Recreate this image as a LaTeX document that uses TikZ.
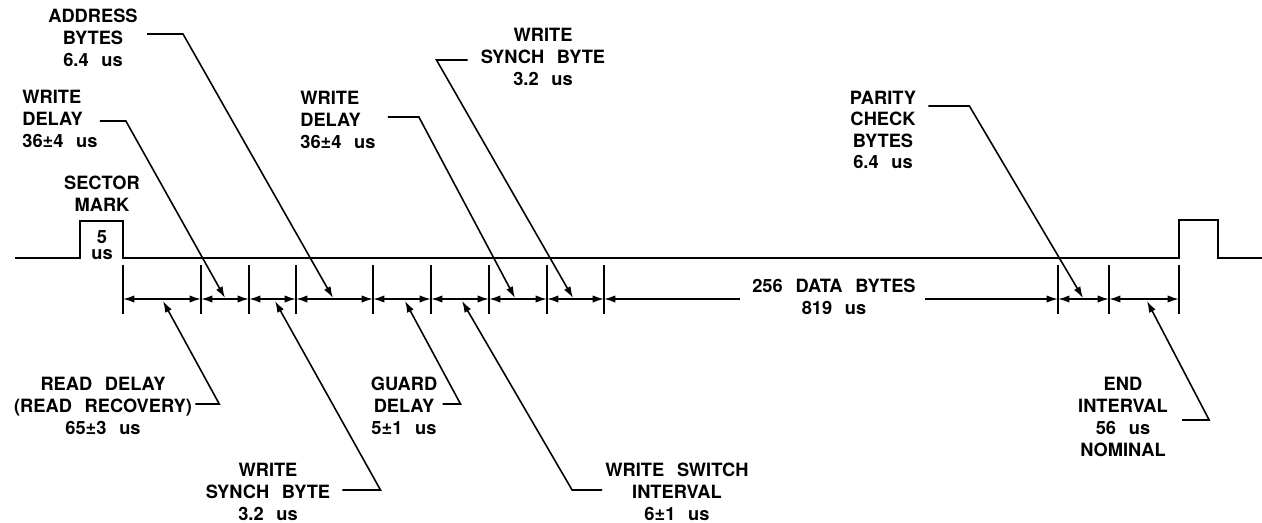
\documentclass[tikz,border=0pt]{standalone}
\usepackage{fontspec}
\setmainfont{TeX Gyre Heros}[WordSpace=2.5]
\usetikzlibrary{arrows.meta}

\begin{document}
\begin{tikzpicture}[
  x=0.02cm, y=-0.02cm,
  font=\fontsize{10.4}{12.5}\selectfont\bfseries,
  lbl/.style={align=center, inner sep=0pt},
  signal/.style={line width=1.5pt, line join=miter},
  tick/.style={line width=0.9pt},
  dim/.style={{Latex[length=6.5pt,width=4.2pt]}-{Latex[length=6.5pt,width=4.2pt]},
              line width=0.9pt},
  lead/.style={-{Latex[length=6.5pt,width=4.2pt]}, line width=0.9pt}
]
\useasboundingbox (0,0) rectangle (1262,522);

%% Signal with sector mark pulses
\draw[signal] (15,258) -- (80,258) -- (80,221) -- (123,221) -- (123,258)
  -- (1179,258) -- (1179,220) -- (1218,220) -- (1218,258) -- (1262,258);
\node[lbl] (sector) at (102,194) {SECTOR\\MARK};
\node[lbl, font=\fontsize{10.4}{9.1}\selectfont\bfseries] (smark) at (102,245) {5\\us};

%% Tick marks on the time scale
\coordinate (t1)  at (123,299);
\coordinate (t2)  at (201,299);
\coordinate (t3)  at (249,299);
\coordinate (t4)  at (296,299);
\coordinate (t5)  at (373,299);
\coordinate (t6)  at (431,299);
\coordinate (t7)  at (489,299);
\coordinate (t8)  at (547,299);
\coordinate (t9)  at (604,299);
\coordinate (t10) at (1058,299);
\coordinate (t11) at (1109,299);
\coordinate (t12) at (1179,299);
\foreach \t in {t1,t2,t3,t4,t5,t6,t7,t8,t9,t10,t11,t12}
  \draw[tick] (\t) ++(0,-34) -- ++(0,49);

%% Interval dimensions
\draw[dim] (t1) -- (t2);
\draw[dim] (t2) -- (t3);
\draw[dim] (t3) -- (t4);
\draw[dim] (t4) -- (t5);
\draw[dim] (t5) -- (t6);
\draw[dim] (t6) -- (t7);
\draw[dim] (t7) -- (t8);
\draw[dim] (t8) -- (t9);
\draw[dim] (t10) -- (t11);
\draw[dim] (t11) -- (t12);

\node[lbl] (data) at (834,297) {256 DATA BYTES\\819 us};
\draw[lead] ([xshift=-7pt]data.west |- t9) -- (t9);
\draw[lead] ([xshift=5pt]data.east |- t10) -- (t10);

%% Tip points of the pointers
\coordinate (addr-tip)    at (333,298);
\coordinate (wdelA-tip)   at (225,298);
\coordinate (wdelB-tip)   at (515,298);
\coordinate (wsyncA-tip)  at (573,298);
\coordinate (parity-tip)  at (1083,298);
\coordinate (rdelay-tip)  at (163,301);
\coordinate (wsyncB-tip)  at (275,301);
\coordinate (guard-tip)   at (405,301);
\coordinate (wswitch-tip) at (462,301);
\coordinate (endint-tip)  at (1147,301);

%% Labels above the line
\node[lbl] (addr) at (93,38) {ADDRESS\\BYTES\\6.4 us};
\node[lbl, align=left, anchor=west] (wdelA) at (22,119) {WRITE\\DELAY\\36±4 us};
\node[lbl, align=left, anchor=west] (wdelB) at (300,120) {WRITE\\DELAY\\36±4 us};
\node[lbl] (wsyncA) at (543,57) {WRITE\\SYNCH BYTE\\3.2 us};
\node[lbl, font=\fontsize{10.4}{12.1}\selectfont\bfseries] (parity) at (883,130)
  {PARITY\\CHECK\\BYTES\\6.4 us};

\draw[lead] ([shift={(9,-4)}]addr.east) -- ++(36,0) -- (addr-tip);
\draw[lead] ([shift={(2,2)}]wdelA.east) -- ++(26,0) -- (wdelA-tip);
\draw[lead] ([shift={(12,-3)}]wdelB.east) -- ++(31,0) -- (wdelB-tip);
\draw[lead] ([shift={(-13,3)}]wsyncA.west) -- ++(-31,0) -- (wsyncA-tip);
\draw[lead] ([shift={(12,-24)}]parity.east) -- ++(41,0) -- (parity-tip);

%% Labels below the line
\node[lbl] (rdelay) at (103,406) {READ DELAY\\(READ RECOVERY)\\65±3 us};
\node[lbl] (wsyncB) at (268,492) {WRITE\\SYNCH BYTE\\3.2 us};
\node[lbl] (guard) at (404,406) {GUARD\\DELAY\\5±1 us};
\node[lbl] (wswitch) at (677,492) {WRITE SWITCH\\INTERVAL\\6±1 us};
\node[lbl] (endint) at (1123,417) {END\\INTERVAL\\56 us\\NOMINAL};

\draw[lead] ([shift={(3,-2)}]rdelay.east) -- ++(24,0) -- (rdelay-tip);
\draw[lead] ([shift={(12,-2)}]wsyncB.east) -- ++(38,0) -- (wsyncB-tip);
\draw[lead] ([shift={(5,-2)}]guard.east) -- ++(18,0) -- (guard-tip);
\draw[lead] ([shift={(-3,-2)}]wswitch.west) -- ++(-30,0) -- (wswitch-tip);
\draw[lead] ([shift={(14,3)}]endint.east) -- ++(27,0) -- (endint-tip);

\end{tikzpicture}
\end{document}
